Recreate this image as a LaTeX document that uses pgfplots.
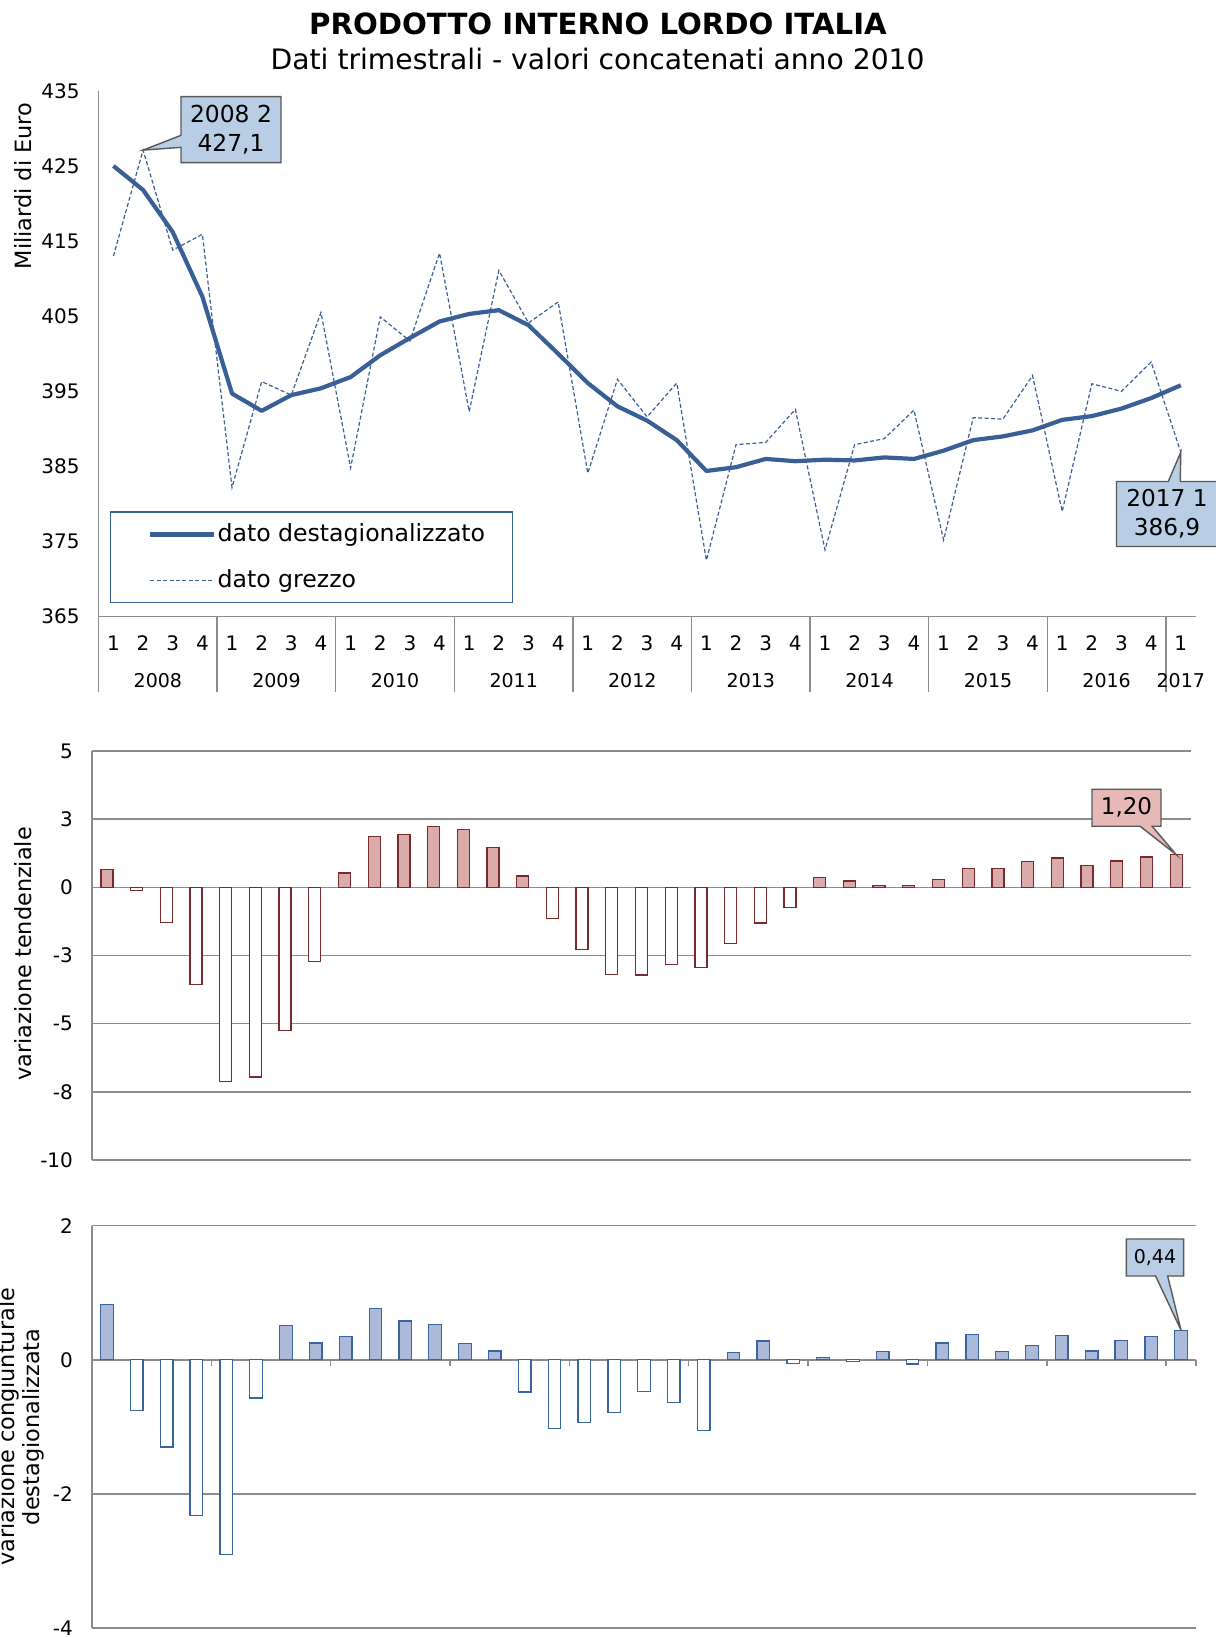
\documentclass[border=0pt]{standalone}
\usepackage{fontspec}
\setmainfont{DejaVu Sans}
\usepackage{pgfplots}
\pgfplotsset{compat=1.18}
\usepackage{pgfplotstable}
\usetikzlibrary{shapes.callouts}

\definecolor{lineBlue}{HTML}{3A5F96}
\definecolor{axisGray}{HTML}{8C8C8C}
\definecolor{tendFill}{HTML}{DBAAAA}
\definecolor{tendEdge}{HTML}{7A2A2A}
\definecolor{congFill}{HTML}{AABAD8}
\definecolor{congEdge}{HTML}{3A64A0}
\definecolor{calloutBlue}{HTML}{B9CDE5}
\definecolor{calloutPink}{HTML}{E6B9B8}
\definecolor{calloutEdge}{HTML}{595959}

% i = trimestre (0 = 2008 T1), sa = destagionalizzato, raw = grezzo,
% tend = var. tendenziale, cong = var. congiunturale
\pgfplotstableread{
i  sa     raw    tend   cong
0  425.0  413.0  0.65   0.83
1  421.8  427.1  -0.12  -0.76
2  416.2  413.8  -1.30  -1.30
3  407.6  415.9  -3.56  -2.32
4  394.7  382.2  -7.12  -2.90
5  392.4  396.3  -6.95  -0.57
6  394.5  394.5  -5.24  0.51
7  395.4  405.5  -2.73  0.25
8  396.9  384.8  0.53   0.35
9  399.8  404.9  1.87   0.77
10 402.1  401.7  1.95   0.58
11 404.3  413.4  2.22   0.53
12 405.3  392.3  2.13   0.24
13 405.8  411.1  1.46   0.13
14 403.8  404.1  0.42   -0.48
15 400.0  406.9  -1.14  -1.02
16 396.1  384.1  -2.29  -0.93
17 393.0  396.6  -3.20  -0.79
18 391.1  391.6  -3.21  -0.47
19 388.5  396.1  -2.83  -0.64
20 384.4  372.5  -2.95  -1.05
21 384.9  387.9  -2.06  0.11
22 386.0  388.2  -1.31  0.28
23 385.7  392.6  -0.75  -0.05
24 385.9  373.9  0.37   0.03
25 385.8  387.9  0.23   -0.02
26 386.2  388.7  0.07   0.12
27 386.0  392.5  0.07   -0.06
28 387.1  375.2  0.29   0.25
29 388.5  391.5  0.70   0.38
30 389.0  391.3  0.70   0.12
31 389.8  397.1  0.95   0.21
32 391.2  379.0  1.08   0.36
33 391.7  396.0  0.81   0.13
34 392.7  395.0  0.97   0.29
35 394.1  398.9  1.11   0.35
36 395.8  386.9  1.20   0.44
}\pil

\pgfplotsset{
  panel/.style={
    scale only axis, xmin=-0.5, xmax=36.5, enlargelimits=false, clip=false,
    axis line style={axisGray, line width=0.7pt},
    major tick length=0pt,
    tick label style={font=\fontsize{10}{12}\selectfont},
    /pgf/number format/assume math mode=true,
    yticklabel style={xshift=-6pt},
    ylabel style={font=\fontsize{11.2}{12.5}\selectfont, anchor=center, align=center},
    grid style={axisGray, line width=0.7pt},
  },
}
\tikzset{
  yearlab/.style={font=\fontsize{9.5}{11}\selectfont, anchor=center, yshift=-31.7pt},
  mycallout/.style={rectangle callout, draw=calloutEdge, line width=0.7pt,
    align=center, inner sep=1pt, callout pointer width=6pt},
}

\begin{document}
\begin{tikzpicture}
\useasboundingbox (0,0) rectangle (607.5pt,-818.5pt);

\node[anchor=base, font=\fontsize{14.6}{17}\selectfont\bfseries] at (598*0.5pt,-35*0.5pt) {PRODOTTO INTERNO LORDO ITALIA};
\node[anchor=base, font=\fontsize{14.1}{17}\selectfont] at (597.6*0.5pt,-70*0.5pt) {Dati trimestrali - valori concatenati anno 2010};

% pannello 1: livelli
\begin{axis}[panel, at={(98.6*0.5pt,-616.7*0.5pt)}, anchor=south west,
    width=548.5pt, height=262.95pt,
    ymin=365, ymax=435, ytick={365,375,...,435},
    axis x line*=bottom, axis y line*=left,
    xtick={0,...,36},
    xticklabels={1,2,3,4,1,2,3,4,1,2,3,4,1,2,3,4,1,2,3,4,1,2,3,4,1,2,3,4,1,2,3,4,1,2,3,4,1},
    xticklabel style={yshift=-6pt},
    ylabel={Miliardi di Euro},
    ylabel style={at={(axis description cs:-0.0689,0.819)}},
    legend style={at={(0.010,0.0255)}, anchor=south west, draw=lineBlue,
        line width=0.8pt, fill=white, inner xsep=0pt, inner ysep=3.9pt,
        row sep=8.4pt, column sep=-1.5pt, font=\fontsize{11.8}{14}\selectfont},
    legend cell align=left,
    legend image code/.code={\path (-19pt,0pt); \draw[#1] (0pt,0pt) -- (32pt,0pt);},
]
\addplot[lineBlue, line width=2.1pt, line join=round] table[x=i, y=sa] {\pil};
\addlegendentry{\makebox[145.5pt][l]{dato destagionalizzato}}
\addplot[lineBlue, line width=0.6pt, dash pattern=on 2pt off 1.2pt] table[x=i, y=raw] {\pil};
\addlegendentry{\makebox[145.5pt][l]{dato grezzo}}

\pgfplotsinvokeforeach{-0.5,3.5,7.5,11.5,15.5,19.5,23.5,27.5,31.5,35.5}{
  \draw[axisGray, line width=0.7pt] (axis cs:#1,365) -- ++(0pt,-37.7pt);
}
\node[yearlab] at (axis cs:1.5,365) {2008};
\node[yearlab] at (axis cs:5.5,365) {2009};
\node[yearlab] at (axis cs:9.5,365) {2010};
\node[yearlab] at (axis cs:13.5,365) {2011};
\node[yearlab] at (axis cs:17.5,365) {2012};
\node[yearlab] at (axis cs:21.5,365) {2013};
\node[yearlab] at (axis cs:25.5,365) {2014};
\node[yearlab] at (axis cs:29.5,365) {2015};
\node[yearlab] at (axis cs:33.5,365) {2016};
\node[yearlab] at (axis cs:36,365) {2017};

\coordinate (c1) at (axis cs:1,427.1);
\coordinate (c2) at (axis cs:36,386.9);
\end{axis}

% pannello 2: variazione tendenziale
\begin{axis}[panel, at={(92*0.5pt,-1160*0.5pt)}, anchor=south west,
    width=549.5pt, height=204.5pt,
    ymin=-10, ymax=5, ytick={-10,-7.5,...,5}, yticklabels={-10,-8,-5,-3,0,3,5},
    ymajorgrids, axis x line*=bottom, axis y line*=left, xtick=\empty,
    ylabel={variazione tendenziale},
    ylabel style={at={(axis description cs:-0.0628,0.504)}},
]
\addplot[ybar, bar width=6pt, bar shift=0pt, fill=tendFill, draw=tendEdge, line width=0.65pt]
  table[x=i, y=tend, restrict y to domain=0:10] {\pil};
\addplot[ybar, bar width=6pt, bar shift=0pt, fill=white, draw=tendEdge, line width=0.65pt]
  table[x=i, y=tend, restrict y to domain=-10:0] {\pil};
\coordinate (c3) at (axis cs:36,1.20);
\end{axis}

% pannello 3: variazione congiunturale
\begin{axis}[panel, at={(92*0.5pt,-1628*0.5pt)}, anchor=south west,
    width=552pt, height=201.15pt,
    ymin=-4, ymax=2, ytick={-4,-2,0,2},
    ymajorgrids, axis x line*=bottom, axis y line*=left, xtick=\empty,
    ylabel={variazione congiunturale\\destagionalizzata},
    ylabel style={at={(axis description cs:-0.0648,0.5)}},
]
\addplot[ybar, bar width=6.3pt, bar shift=0pt, fill=congFill, draw=congEdge, line width=0.65pt]
  table[x=i, y=cong, restrict y to domain=0:10] {\pil};
\addplot[ybar, bar width=6.3pt, bar shift=0pt, fill=white, draw=congEdge, line width=0.65pt]
  table[x=i, y=cong, restrict y to domain=-10:0] {\pil};
\pgfplotsinvokeforeach{3.5,7.5,11.5,15.5,19.5,23.5,27.5,31.5,35.5,36.5}{
  \draw[axisGray, line width=0.7pt] (axis cs:#1,0) -- ++(0pt,-3.3pt);
}
\coordinate (c4) at (axis cs:36,0.44);
\end{axis}

% etichette
\node[mycallout, callout absolute pointer={(c1)}, fill=calloutBlue,
  minimum width=50pt, minimum height=33pt, font=\fontsize{11.7}{14.5}\selectfont]
  at (231*0.5pt,-129.7*0.5pt) {2008 2\\427,1};
\node[mycallout, callout absolute pointer={(c2)}, fill=calloutBlue,
  minimum width=50.5pt, minimum height=32.5pt, font=\fontsize{11.6}{14.5}\selectfont]
  at (1167*0.5pt,-514*0.5pt) {2017 1\\386,9};
\node[mycallout, callout absolute pointer={(c3)}, fill=calloutPink,
  minimum width=34.5pt, minimum height=18.5pt, font=\fontsize{11.5}{13}\selectfont]
  at (1126.5*0.5pt,-807.7*0.5pt) {1,20};
\node[mycallout, callout absolute pointer={(c4)}, fill=calloutBlue,
  minimum width=28.6pt, minimum height=18.5pt, font=\fontsize{9.5}{11}\selectfont]
  at (1155*0.5pt,-1257.5*0.5pt) {0,44};
\end{tikzpicture}
\end{document}
